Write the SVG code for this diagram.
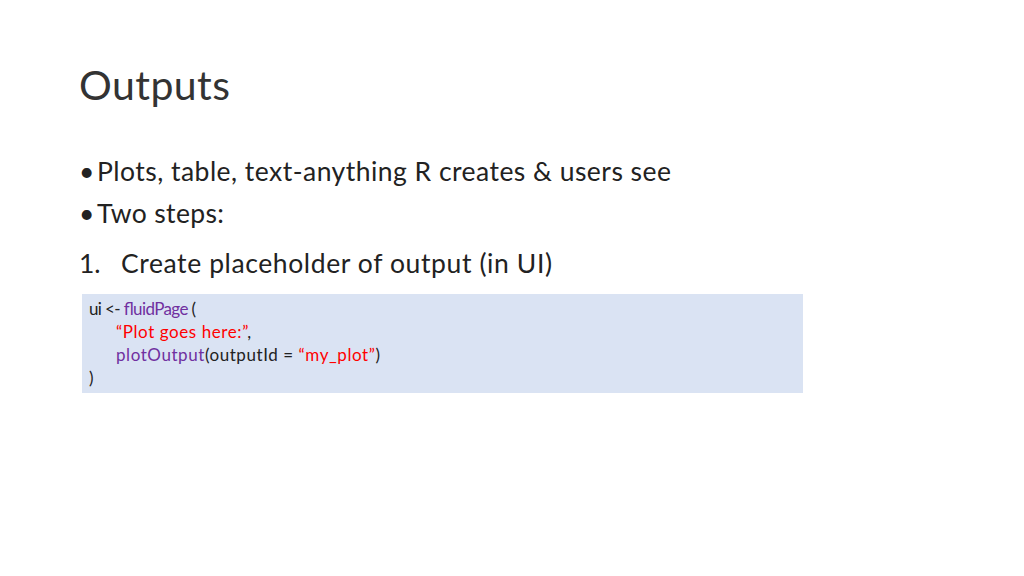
<svg xmlns="http://www.w3.org/2000/svg" width="1024" height="576" viewBox="0 0 1024 576">
<style>
text{font-family:Lato,"Liberation Sans",sans-serif;fill:#222}
.b{font-size:26.5px}
.c{font-size:17px}
.p{fill:#7030A0}
.r{fill:#FF0000}
</style>
<rect width="1024" height="576" fill="#fff"/>
<text x="79" y="100" style="font-size:41px;fill:#333" textLength="151">Outputs</text>
<text x="79" y="181" class="b">•</text>
<text x="97" y="181" class="b" textLength="574">Plots, table, text-anything R creates &amp; users see</text>
<text x="79" y="223" class="b">•</text>
<text x="97" y="223" class="b" textLength="127">Two steps:</text>
<text x="79" y="273" class="b">1.</text>
<text x="121" y="273" class="b" textLength="431">Create placeholder of output (in UI)</text>
<rect x="82" y="294" width="721" height="99" fill="#DAE3F3"/>
<text x="89" y="315" class="c" textLength="107">ui &lt;- <tspan class="p">fluidPage</tspan> (</text>
<text x="116" y="338" class="c" textLength="135"><tspan class="r">“Plot goes here:”</tspan>,</text>
<text x="116" y="361" class="c" textLength="264"><tspan class="p">plotOutput</tspan>(outputId = <tspan class="r">“my_plot”</tspan>)</text>
<text x="89" y="384" class="c">)</text>
</svg>
